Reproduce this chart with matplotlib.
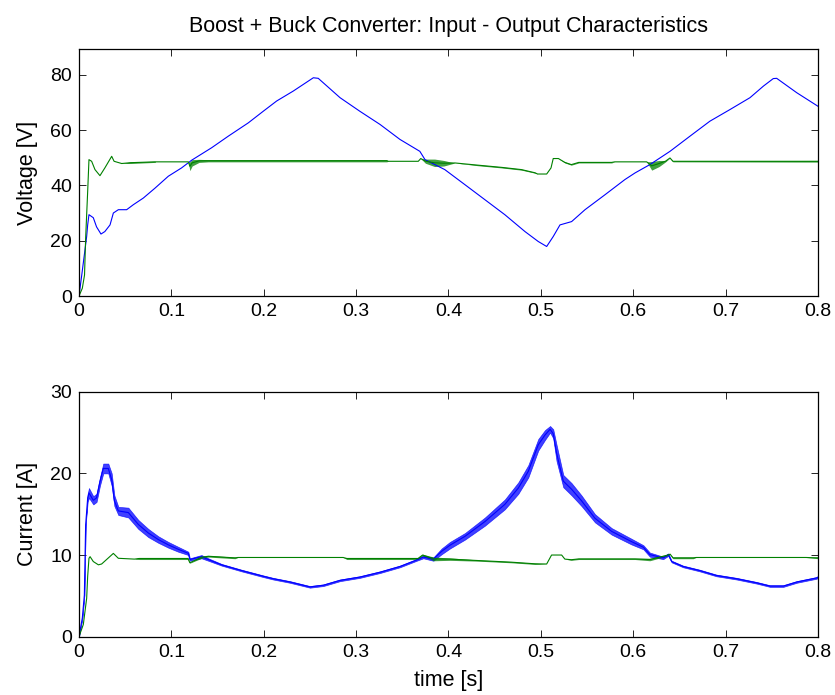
import matplotlib
matplotlib.use("Agg")
import matplotlib.pyplot as plt
import numpy as np

plt.rcParams['font.family'] = ['Liberation Sans', 'DejaVu Sans']

# ---------------- data ----------------
# Input voltage (blue), top plot
t_vin = [0.0, 0.003, 0.0058, 0.0083, 0.0094, 0.0108, 0.0155, 0.019, 0.0238, 0.028,
         0.0336, 0.0372, 0.0426, 0.0516, 0.0588, 0.0696, 0.0823, 0.0967, 0.111, 0.122,
         0.1436, 0.1617, 0.1833, 0.1995, 0.214, 0.232, 0.2537, 0.259, 0.2826, 0.304,
         0.326, 0.3475, 0.369, 0.3746, 0.396, 0.418, 0.4395, 0.461, 0.4828, 0.4972,
         0.5063, 0.5134, 0.5207, 0.5333, 0.5478, 0.5694, 0.591, 0.602, 0.618, 0.6398,
         0.6615, 0.683, 0.7047, 0.7264, 0.741, 0.7516, 0.7553, 0.777, 0.8]
v_in = [0.0, 7.6, 14.9, 21.5, 25.7, 29.4, 28.3, 25.0, 22.4, 23.3,
        25.7, 30.0, 31.2, 31.2, 33.0, 35.4, 39.0, 43.3, 46.3, 49.1,
        53.6, 57.8, 62.6, 66.8, 70.5, 74.1, 78.9, 78.7, 71.7, 66.8,
        62.0, 56.6, 52.3, 49.3, 45.7, 40.2, 34.8, 29.4, 23.3, 19.7,
        17.9, 21.5, 25.7, 26.9, 31.2, 36.6, 42.1, 44.5, 47.5, 52.3,
        57.8, 63.2, 67.4, 71.7, 75.9, 78.6, 78.7, 73.5, 68.6]

# Output voltage (green), top plot: lower / upper edge of the ripple
t_vout = [0.0, 0.0036, 0.006, 0.0072, 0.0094, 0.0108, 0.0137, 0.0173, 0.0227, 0.028,
          0.0354, 0.038, 0.0462, 0.056, 0.0823, 0.083, 0.1184, 0.120, 0.1225, 0.13,
          0.14, 0.333, 0.335, 0.3673, 0.370, 0.375, 0.385, 0.395, 0.407, 0.432,
          0.4576, 0.479, 0.4937, 0.4965, 0.5063, 0.511, 0.5134, 0.519, 0.526, 0.533,
          0.541, 0.5766, 0.58, 0.6146, 0.62, 0.628, 0.635, 0.6398, 0.643, 0.8]
v_out_lo = [0.0, 2.8, 7.6, 20.9, 37.8, 49.3, 48.7, 45.7, 43.5, 46.3,
            50.5, 48.7, 47.9, 47.9, 48.3, 48.5, 48.5, 45.3, 47.0, 48.3,
            48.5, 48.5, 48.7, 48.7, 49.7, 48.0, 46.8, 47.0, 48.1, 47.1,
            46.3, 45.5, 44.4, 44.1, 44.1, 46.3, 49.7, 49.7, 48.1, 47.3,
            48.1, 48.1, 48.5, 48.5, 45.5, 46.8, 48.5, 49.9, 48.5, 48.4]
v_out_hi = [0.0, 2.8, 7.6, 20.9, 37.8, 49.3, 48.7, 45.7, 43.5, 46.3,
            50.5, 48.7, 47.9, 48.5, 48.7, 48.5, 48.5, 48.5, 49.3, 49.4,
            49.3, 49.3, 48.7, 48.7, 49.7, 49.5, 49.5, 49.0, 48.1, 47.5,
            46.7, 45.9, 44.7, 44.1, 44.1, 46.3, 49.7, 49.7, 48.5, 47.7,
            48.5, 48.5, 48.5, 48.5, 48.6, 49.0, 49.0, 49.9, 48.9, 49.0]

# Input current (blue), bottom plot: lower / upper edge of the ripple
t_iin = [0.0, 0.0036, 0.0058, 0.0072, 0.0094, 0.0108, 0.0155, 0.019, 0.0227, 0.0263,
         0.0317, 0.0354, 0.0383, 0.0426, 0.0534, 0.0642, 0.075, 0.0858, 0.0967, 0.1075,
         0.1184, 0.120, 0.1326, 0.14, 0.1545, 0.176, 0.1995, 0.2103, 0.2284, 0.25,
         0.2645, 0.2826, 0.304, 0.326, 0.3475, 0.3656, 0.3727, 0.3836, 0.3926, 0.4016,
         0.418, 0.4395, 0.461, 0.4756, 0.4864, 0.4972, 0.5045, 0.51, 0.5134, 0.517,
         0.5243, 0.5333, 0.544, 0.5586, 0.5766, 0.598, 0.611, 0.618, 0.6325, 0.638,
         0.6416, 0.654, 0.672, 0.69, 0.712, 0.7336, 0.748, 0.7625, 0.777, 0.7986, 0.8]
i_in_lo = [0.0, 2.3, 5.1, 13.7, 16.5, 17.0, 16.2, 16.5, 18.5, 20.0,
           20.0, 18.5, 16.0, 14.9, 14.6, 13.2, 12.2, 11.5, 10.9, 10.4,
           10.0, 9.3, 9.6, 9.3, 8.7, 8.0, 7.3, 7.0, 6.6, 6.0,
           6.2, 6.8, 7.2, 7.8, 8.5, 9.3, 9.6, 9.3, 10.1, 10.8,
           11.9, 13.6, 15.6, 17.5, 19.5, 22.8, 24.1, 25.0, 24.3, 21.5,
           18.3, 17.3, 16.0, 14.0, 12.5, 11.3, 10.7, 9.8, 9.5, 9.9,
           9.1, 8.5, 8.0, 7.4, 7.0, 6.5, 6.1, 6.1, 6.6, 7.1, 7.2]
i_in_hi = [0.0, 2.3, 5.1, 13.7, 17.5, 18.2, 17.2, 17.5, 19.5, 21.2,
           21.2, 20.0, 17.3, 15.9, 15.8, 14.3, 13.2, 12.3, 11.6, 11.0,
           10.4, 9.6, 10.0, 9.6, 8.9, 8.2, 7.5, 7.2, 6.8, 6.2,
           6.4, 7.0, 7.4, 8.0, 8.7, 9.5, 9.9, 9.7, 10.8, 11.6,
           12.7, 14.6, 16.8, 18.9, 21.0, 24.2, 25.3, 25.8, 25.4, 23.5,
           19.8, 18.8, 17.3, 15.0, 13.3, 12.0, 11.2, 10.3, 9.8, 10.2,
           9.3, 8.7, 8.2, 7.6, 7.2, 6.7, 6.3, 6.3, 6.8, 7.3, 7.4]

# Output current (green), bottom plot: lower / upper edge of the ripple
t_iout = [0.0, 0.0047, 0.0083, 0.0094, 0.0108, 0.012, 0.0155, 0.021, 0.0245, 0.0372,
          0.0426, 0.06, 0.065, 0.118, 0.120, 0.1326, 0.14, 0.169, 0.172, 0.286,
          0.29, 0.367, 0.372, 0.384, 0.4016, 0.432, 0.468, 0.4937, 0.5063, 0.5116,
          0.5225, 0.526, 0.533, 0.541, 0.602, 0.618, 0.636, 0.64, 0.643, 0.665,
          0.668, 0.787, 0.8]
i_out_lo = [0.0, 1.5, 4.7, 7.4, 9.6, 9.8, 9.2, 8.8, 8.9, 10.2,
            9.6, 9.5, 9.45, 9.45, 9.0, 9.6, 9.75, 9.55, 9.7, 9.7,
            9.45, 9.45, 9.9, 9.3, 9.35, 9.25, 9.05, 8.85, 8.9, 10.0,
            10.0, 9.5, 9.35, 9.45, 9.45, 9.3, 9.85, 10.1, 9.55, 9.55,
            9.7, 9.7, 9.55]
i_out_hi = [0.0, 1.5, 4.7, 7.4, 9.6, 9.8, 9.2, 8.8, 8.9, 10.2,
            9.6, 9.5, 9.7, 9.7, 9.1, 9.85, 9.95, 9.75, 9.7, 9.7,
            9.7, 9.7, 10.1, 9.75, 9.65, 9.4, 9.2, 9.0, 8.9, 10.0,
            10.0, 9.5, 9.5, 9.6, 9.6, 9.6, 10.05, 10.1, 9.75, 9.75,
            9.7, 9.7, 9.75]

title = "Boost + Buck Converter: Input - Output Characteristics"
x_ticks = [0, 0.1, 0.2, 0.3, 0.4, 0.5, 0.6, 0.7, 0.8]
x_labels = ["0", "0.1", "0.2", "0.3", "0.4", "0.5", "0.6", "0.7", "0.8"]
v_ticks = [0, 20, 40, 60, 80]
i_ticks = [0, 10, 20, 30]

BLUE = (0, 0, 1)
GREEN = (0, 0.5, 0)

fig = plt.figure(figsize=(8.35, 6.95), dpi=100)
ax1 = fig.add_axes([0.0946, 0.5741, 0.885, 0.3554])
ax2 = fig.add_axes([0.0946, 0.0839, 0.885, 0.3525])


def band(ax, t, lo, hi, color, edge):
    lo = np.asarray(lo)
    hi = np.asarray(hi)
    ax.fill_between(t, lo, hi, color=color, lw=edge, alpha=0.75)
    ax.plot(t, (lo + hi) / 2, color=color, lw=0.8)


ax1.plot(t_vin, v_in, color=BLUE, lw=0.8)
band(ax1, t_vout, v_out_lo, v_out_hi, GREEN, 0)
band(ax2, t_iin, i_in_lo, i_in_hi, BLUE, 0.5)
band(ax2, t_iout, i_out_lo, i_out_hi, GREEN, 0)

for ax, yt, ylim, ylab in [(ax1, v_ticks, (0, 89.3), "Voltage [V]"),
                           (ax2, i_ticks, (0, 30), "Current [A]")]:
    ax.set_xlim(0, 0.8)
    ax.set_ylim(*ylim)
    ax.set_xticks(x_ticks)
    ax.set_xticklabels(x_labels)
    ax.set_yticks(yt)
    ax.tick_params(direction='in', top=True, right=True, length=5, width=0.6,
                   labelsize=14, pad=5)
    for s in ax.spines.values():
        s.set_linewidth(0.9)
    ax.set_ylabel(ylab, fontsize=15.5, labelpad=9)

ax1.set_title(title, fontsize=15.5, pad=12)
ax2.set_xlabel("time [s]", fontsize=15.5, labelpad=7)

fig.savefig("out.png", dpi=100)
